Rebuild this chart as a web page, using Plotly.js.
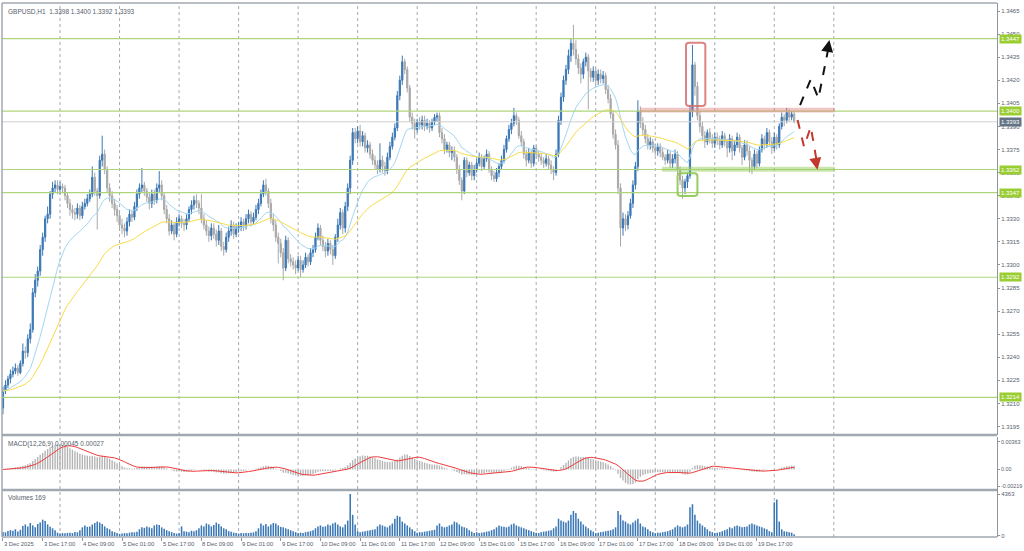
<!DOCTYPE html>
<html><head><meta charset="utf-8">
<script src="https://cdn.plot.ly/plotly-3.0.1.min.js"></script>
<style>html,body{margin:0;padding:0;background:#fff;}#chart{width:1024px;height:551px;}</style>
</head><body><div id="chart"></div>
<script>
// ---- data (GBPUSD H1, bar 0 = 3 Dec 2025 01:00) ----
const openP = [
1.3207,1.3218,1.3222,1.3226,1.3229,1.3231,1.3233,1.3230,1.3236,1.3244,
1.3243,1.3252,1.3258,1.3282,1.3290,1.3296,1.3310,1.3318,1.3330,1.3333,
1.3346,1.3350,1.3352,1.3349,1.3351,1.3350,1.3345,1.3340,1.3336,1.3334,
1.3333,1.3337,1.3332,1.3338,1.3340,1.3343,1.3346,1.3357,1.3348,1.3345,
1.3368,1.3372,1.3362,1.3350,1.3345,1.3340,1.3336,1.3332,1.3326,1.3324,
1.3322,1.3328,1.3333,1.3331,1.3338,1.3346,1.3350,1.3352,1.3348,1.3344,
1.3340,1.3346,1.3342,1.3350,1.3352,1.3345,1.3336,1.3330,1.3322,1.3326,
1.3320,1.3328,1.3330,1.3327,1.3326,1.3330,1.3336,1.3339,1.3342,1.3340,
1.3337,1.3330,1.3326,1.3322,1.3319,1.3324,1.3320,1.3316,1.3322,1.3312,
1.3310,1.3318,1.3322,1.3326,1.3320,1.3324,1.3325,1.3328,1.3325,1.3330,
1.3333,1.3328,1.3331,1.3336,1.3340,1.3346,1.3352,1.3348,1.3340,1.3330,
1.3326,1.3318,1.3314,1.3308,1.3298,1.3316,1.3304,1.3302,1.3300,1.3298,
1.3303,1.3297,1.3300,1.3305,1.3302,1.3308,1.3310,1.3318,1.3324,1.3316,
1.3312,1.3309,1.3314,1.3310,1.3306,1.3318,1.3326,1.3334,1.3324,1.3338,
1.3350,1.3368,1.3386,1.3382,1.3387,1.3380,1.3384,1.3376,1.3378,1.3372,
1.3368,1.3365,1.3362,1.3368,1.3364,1.3361,1.3370,1.3377,1.3383,1.3389,
1.3410,1.3420,1.3432,1.3427,1.3415,1.3396,1.3392,1.3388,1.3393,1.3391,
1.3394,1.3390,1.3392,1.3389,1.3393,1.3396,1.3397,1.3386,1.3382,1.3375,
1.3378,1.3373,1.3374,1.3370,1.3362,1.3355,1.3348,1.3368,1.3360,1.3365,
1.3358,1.3362,1.3366,1.3370,1.3364,1.3369,1.3372,1.3362,1.3358,1.3356,
1.3360,1.3364,1.3368,1.3375,1.3382,1.3388,1.3392,1.3397,1.3394,1.3384,
1.3380,1.3372,1.3368,1.3373,1.3366,1.3376,1.3372,1.3370,1.3368,1.3366,
1.3369,1.3365,1.3362,1.3360,1.3372,1.3394,1.3409,1.3420,1.3427,1.3436,
1.3444,1.3440,1.3434,1.3428,1.3424,1.3432,1.3435,1.3426,1.3422,1.3426,
1.3420,1.3424,1.3421,1.3423,1.3414,1.3408,1.3398,1.3385,1.3378,1.3350,
1.3324,1.3330,1.3326,1.3332,1.3340,1.3352,1.3364,1.3400,1.3392,1.3388,
1.3382,1.3378,1.3380,1.3376,1.3374,1.3377,1.3373,1.3370,1.3368,1.3372,
1.3366,1.3369,1.3372,1.3362,1.3355,1.3350,1.3354,1.3358,1.3400,1.3430,
1.3416,1.3397,1.3390,1.3384,1.3380,1.3386,1.3382,1.3379,1.3383,1.3381,
1.3378,1.3384,1.3380,1.3376,1.3382,1.3374,1.3378,1.3383,1.3376,1.3370,
1.3378,1.3374,1.3368,1.3364,1.3372,1.3366,1.3375,1.3382,1.3378,1.3386,
1.3380,1.3376,1.3383,1.3378,1.3390,1.3396,1.3394,1.3399,1.3396,1.3398];
const highP = [
1.3221,1.3225,1.3228,1.3232,1.3234,1.3236,1.3235,1.3238,1.3249,1.3247,
1.3255,1.3262,1.3285,1.3294,1.3299,1.3313,1.3321,1.3332,1.3338,1.3348,
1.3354,1.3355,1.3355,1.3354,1.3353,1.3352,1.3347,1.3343,1.3339,1.3337,
1.3340,1.3339,1.3341,1.3343,1.3346,1.3349,1.3364,1.3360,1.3350,1.3371,
1.3384,1.3375,1.3364,1.3353,1.3348,1.3343,1.3339,1.3335,1.3330,1.3327,
1.3331,1.3336,1.3335,1.3341,1.3349,1.3353,1.3363,1.3354,1.3350,1.3347,
1.3349,1.3349,1.3353,1.3361,1.3355,1.3347,1.3339,1.3333,1.3329,1.3328,
1.3331,1.3333,1.3332,1.3330,1.3333,1.3338,1.3342,1.3345,1.3346,1.3342,
1.3346,1.3333,1.3329,1.3325,1.3327,1.3327,1.3323,1.3326,1.3324,1.3315,
1.3321,1.3325,1.3329,1.3328,1.3327,1.3328,1.3331,1.3330,1.3333,1.3336,
1.3335,1.3334,1.3339,1.3343,1.3349,1.3355,1.3356,1.3350,1.3343,1.3333,
1.3329,1.3321,1.3317,1.3311,1.3319,1.3318,1.3307,1.3305,1.3303,1.3306,
1.3306,1.3303,1.3308,1.3307,1.3311,1.3313,1.3321,1.3327,1.3326,1.3319,
1.3315,1.3317,1.3316,1.3313,1.3320,1.3330,1.3337,1.3336,1.3341,1.3353,
1.3371,1.3389,1.3389,1.3390,1.3391,1.3387,1.3386,1.3381,1.3380,1.3375,
1.3371,1.3368,1.3379,1.3371,1.3367,1.3373,1.3380,1.3386,1.3392,1.3413,
1.3423,1.3436,1.3434,1.3429,1.3417,1.3399,1.3395,1.3395,1.3396,1.3397,
1.3397,1.3395,1.3394,1.3395,1.3398,1.3399,1.3399,1.3389,1.3385,1.3380,
1.3380,1.3377,1.3377,1.3372,1.3365,1.3357,1.3370,1.3370,1.3367,1.3367,
1.3365,1.3369,1.3373,1.3372,1.3371,1.3375,1.3374,1.3364,1.3361,1.3363,
1.3366,1.3371,1.3378,1.3384,1.3391,1.3395,1.3402,1.3399,1.3396,1.3387,
1.3382,1.3375,1.3376,1.3375,1.3378,1.3378,1.3374,1.3373,1.3370,1.3372,
1.3371,1.3368,1.3364,1.3375,1.3397,1.3412,1.3423,1.3430,1.3440,1.3447,
1.3456,1.3446,1.3437,1.3431,1.3434,1.3438,1.3437,1.3428,1.3429,1.3428,
1.3427,1.3427,1.3426,1.3425,1.3417,1.3411,1.3400,1.3388,1.3381,1.3353,
1.3334,1.3333,1.3335,1.3343,1.3355,1.3367,1.3407,1.3403,1.3396,1.3391,
1.3385,1.3383,1.3382,1.3379,1.3379,1.3379,1.3376,1.3372,1.3375,1.3374,
1.3372,1.3375,1.3374,1.3364,1.3358,1.3356,1.3360,1.3404,1.3443,1.3432,
1.3419,1.3400,1.3393,1.3387,1.3388,1.3389,1.3385,1.3386,1.3386,1.3384,
1.3387,1.3386,1.3382,1.3385,1.3384,1.3381,1.3386,1.3385,1.3378,1.3381,
1.3381,1.3377,1.3370,1.3375,1.3374,1.3377,1.3385,1.3384,1.3389,1.3388,
1.3383,1.3386,1.3385,1.3392,1.3399,1.3398,1.3402,1.3401,1.3400,1.3400];
const lowP = [
1.3203,1.3216,1.3220,1.3223,1.3227,1.3229,1.3228,1.3229,1.3234,1.3239,
1.3240,1.3249,1.3256,1.3279,1.3286,1.3293,1.3306,1.3315,1.3327,1.3330,
1.3343,1.3347,1.3346,1.3346,1.3347,1.3342,1.3337,1.3332,1.3330,1.3329,
1.3330,1.3329,1.3330,1.3336,1.3338,1.3341,1.3344,1.3345,1.3323,1.3343,
1.3364,1.3359,1.3347,1.3341,1.3337,1.3332,1.3328,1.3322,1.3320,1.3318,
1.3319,1.3325,1.3328,1.3329,1.3335,1.3343,1.3347,1.3345,1.3341,1.3336,
1.3337,1.3339,1.3340,1.3347,1.3342,1.3333,1.3327,1.3319,1.3320,1.3316,
1.3318,1.3325,1.3324,1.3322,1.3323,1.3328,1.3333,1.3336,1.3337,1.3333,
1.3327,1.3323,1.3319,1.3315,1.3316,1.3317,1.3312,1.3313,1.3309,1.3306,
1.3308,1.3315,1.3319,1.3317,1.3318,1.3321,1.3322,1.3322,1.3323,1.3327,
1.3325,1.3326,1.3329,1.3333,1.3338,1.3344,1.3345,1.3337,1.3327,1.3322,
1.3315,1.3301,1.3305,1.3290,1.3296,1.3301,1.3299,1.3297,1.3294,1.3296,
1.3292,1.3295,1.3298,1.3299,1.3300,1.3305,1.3308,1.3316,1.3313,1.3309,
1.3305,1.3306,1.3307,1.3300,1.3304,1.3315,1.3323,1.3320,1.3321,1.3335,
1.3346,1.3365,1.3379,1.3379,1.3377,1.3377,1.3373,1.3373,1.3369,1.3365,
1.3362,1.3359,1.3360,1.3360,1.3358,1.3359,1.3368,1.3375,1.3381,1.3387,
1.3407,1.3417,1.3424,1.3412,1.3393,1.3388,1.3382,1.3386,1.3388,1.3388,
1.3387,1.3388,1.3386,1.3387,1.3391,1.3393,1.3383,1.3379,1.3372,1.3373,
1.3370,1.3368,1.3367,1.3359,1.3352,1.3342,1.3346,1.3357,1.3358,1.3355,
1.3355,1.3360,1.3364,1.3361,1.3362,1.3367,1.3360,1.3355,1.3354,1.3354,
1.3357,1.3362,1.3366,1.3373,1.3380,1.3385,1.3390,1.3391,1.3382,1.3377,
1.3369,1.3364,1.3366,1.3363,1.3364,1.3369,1.3367,1.3365,1.3363,1.3364,
1.3362,1.3359,1.3355,1.3358,1.3370,1.3391,1.3406,1.3417,1.3424,1.3432,
1.3436,1.3430,1.3424,1.3418,1.3421,1.3429,1.3401,1.3419,1.3419,1.3417,
1.3417,1.3418,1.3418,1.3411,1.3405,1.3395,1.3382,1.3375,1.3346,1.3312,
1.3319,1.3322,1.3323,1.3330,1.3337,1.3349,1.3361,1.3389,1.3384,1.3379,
1.3375,1.3375,1.3373,1.3371,1.3371,1.3370,1.3368,1.3365,1.3366,1.3363,
1.3363,1.3366,1.3359,1.3352,1.3343,1.3346,1.3350,1.3356,1.3396,1.3410,
1.3394,1.3386,1.3381,1.3376,1.3378,1.3379,1.3376,1.3376,1.3378,1.3375,
1.3376,1.3377,1.3370,1.3373,1.3368,1.3371,1.3376,1.3373,1.3365,1.3368,
1.3371,1.3360,1.3359,1.3362,1.3363,1.3364,1.3373,1.3375,1.3376,1.3377,
1.3372,1.3374,1.3375,1.3376,1.3388,1.3390,1.3392,1.3393,1.3394,1.3392];
const closeP = [
1.3218,1.3222,1.3226,1.3229,1.3231,1.3233,1.3230,1.3236,1.3244,1.3243,
1.3252,1.3258,1.3282,1.3290,1.3296,1.3310,1.3318,1.3330,1.3333,1.3346,
1.3350,1.3352,1.3349,1.3351,1.3350,1.3345,1.3340,1.3336,1.3334,1.3333,
1.3337,1.3332,1.3338,1.3340,1.3343,1.3346,1.3357,1.3348,1.3345,1.3368,
1.3372,1.3362,1.3350,1.3345,1.3340,1.3336,1.3332,1.3326,1.3324,1.3322,
1.3328,1.3333,1.3331,1.3338,1.3346,1.3350,1.3352,1.3348,1.3344,1.3340,
1.3346,1.3342,1.3350,1.3352,1.3345,1.3336,1.3330,1.3322,1.3326,1.3320,
1.3328,1.3330,1.3327,1.3326,1.3330,1.3336,1.3339,1.3342,1.3340,1.3337,
1.3330,1.3326,1.3322,1.3319,1.3324,1.3320,1.3316,1.3322,1.3312,1.3310,
1.3318,1.3322,1.3326,1.3320,1.3324,1.3325,1.3328,1.3325,1.3330,1.3333,
1.3328,1.3331,1.3336,1.3340,1.3346,1.3352,1.3348,1.3340,1.3330,1.3326,
1.3318,1.3314,1.3308,1.3298,1.3316,1.3304,1.3302,1.3300,1.3298,1.3303,
1.3297,1.3300,1.3305,1.3302,1.3308,1.3310,1.3318,1.3324,1.3316,1.3312,
1.3309,1.3314,1.3310,1.3306,1.3318,1.3326,1.3334,1.3324,1.3338,1.3350,
1.3368,1.3386,1.3382,1.3387,1.3380,1.3384,1.3376,1.3378,1.3372,1.3368,
1.3365,1.3362,1.3368,1.3364,1.3361,1.3370,1.3377,1.3383,1.3389,1.3410,
1.3420,1.3432,1.3427,1.3415,1.3396,1.3392,1.3388,1.3393,1.3391,1.3394,
1.3390,1.3392,1.3389,1.3393,1.3396,1.3397,1.3386,1.3382,1.3375,1.3378,
1.3373,1.3374,1.3370,1.3362,1.3355,1.3348,1.3368,1.3360,1.3365,1.3358,
1.3362,1.3366,1.3370,1.3364,1.3369,1.3372,1.3362,1.3358,1.3356,1.3360,
1.3364,1.3368,1.3375,1.3382,1.3388,1.3392,1.3397,1.3394,1.3384,1.3380,
1.3372,1.3368,1.3373,1.3366,1.3376,1.3372,1.3370,1.3368,1.3366,1.3369,
1.3365,1.3362,1.3360,1.3372,1.3394,1.3409,1.3420,1.3427,1.3436,1.3444,
1.3440,1.3434,1.3428,1.3424,1.3432,1.3435,1.3426,1.3422,1.3426,1.3420,
1.3424,1.3421,1.3423,1.3414,1.3408,1.3398,1.3385,1.3378,1.3350,1.3324,
1.3330,1.3326,1.3332,1.3340,1.3352,1.3364,1.3400,1.3392,1.3388,1.3382,
1.3378,1.3380,1.3376,1.3374,1.3377,1.3373,1.3370,1.3368,1.3372,1.3366,
1.3369,1.3372,1.3362,1.3355,1.3350,1.3354,1.3358,1.3400,1.3430,1.3416,
1.3397,1.3390,1.3384,1.3380,1.3386,1.3382,1.3379,1.3383,1.3381,1.3378,
1.3384,1.3380,1.3376,1.3382,1.3374,1.3378,1.3383,1.3376,1.3370,1.3378,
1.3374,1.3368,1.3364,1.3372,1.3366,1.3375,1.3382,1.3378,1.3386,1.3380,
1.3376,1.3383,1.3378,1.3390,1.3396,1.3394,1.3399,1.3396,1.3398,1.3393];
const volumes = [
420,380,520,610,540,700,480,650,1050,1200,980,1350,1100,900,1250,1400,1700,1550,1200,950,800,600,350,
250,300,280,320,350,300,420,380,600,900,1100,950,1000,1200,1350,1500,1400,1250,1000,800,700,500,400,300,
220,260,300,280,350,400,380,450,700,900,850,1000,900,800,1100,1200,1150,900,750,600,500,400,300,250,
300,1000,500,450,400,550,500,600,800,1100,1000,1300,1200,1000,1150,1400,1250,1000,800,700,500,450,350,300,
250,300,280,320,300,350,380,500,800,1300,1100,1250,1000,1200,1350,1300,1100,950,900,800,700,600,500,400,
300,350,320,400,450,500,600,800,1000,1100,950,1000,1200,1100,1300,1400,1200,1000,900,1200,1600,4363,2200,1200,
500,400,450,500,550,600,650,700,1000,1200,1100,1000,900,1100,1300,1800,2100,2000,1500,1300,1100,900,700,500,
350,400,380,450,500,550,600,650,1100,1300,1000,900,950,1100,1200,1500,1400,1200,1000,900,800,600,450,300,
400,300,350,400,450,500,600,700,900,1100,1000,950,900,1000,1200,1300,1100,1000,900,800,700,600,500,400,
350,300,400,450,500,550,600,800,1000,1800,1600,1500,1400,1600,2200,2600,2400,1800,1500,1200,1000,800,600,450,
300,350,400,450,500,550,600,700,900,2600,2200,1600,1500,1300,1200,1400,1600,1800,1300,1000,900,700,500,400,
300,350,350,400,450,500,600,700,900,1100,1000,900,1000,1200,3000,3300,2200,1600,1300,1100,900,700,500,400,
300,350,400,500,600,700,900,800,1000,1100,1000,900,950,1000,1200,1300,1200,1100,1000,900,800,700,500,400,
3500,3800,1500,700,500,450,400,350,169];

const tickBars = [0,16,32,48,64,80,96,112,128,144,160,176,192,208,224,240,256,272,288,304];
const tickLabels = ["3 Dec 2025","3 Dec 17:00","4 Dec 09:00","5 Dec 01:00","5 Dec 17:00","8 Dec 09:00",
  "9 Dec 01:00","9 Dec 17:00","10 Dec 09:00","11 Dec 01:00","11 Dec 17:00","12 Dec 09:00",
  "15 Dec 01:00","15 Dec 17:00","16 Dec 09:00","17 Dec 01:00","17 Dec 17:00","18 Dec 09:00",
  "19 Dec 01:00","19 Dec 17:00"];
const daySeparators = [23,47,71,95,119,143,167,191,215,239,263,287,311,335];
const priceTicks = [1.3465,1.3450,1.3435,1.3420,1.3405,1.3390,1.3375,1.3360,1.3345,1.3330,1.3315,1.3300,
  1.3285,1.3270,1.3255,1.3240,1.3225,1.3210,1.3195];
const levels = [1.3447,1.3400,1.3362,1.3347,1.3292,1.3214];
const lastPrice = 1.3393;
const macdTicks = [0.00363,0,-0.00219];
const macdTickText = ["0.00363","0.00","-0.00219"];
const volTicks = [0,4363];

// ---- indicators computed from the closes ----
function ema(arr,n){const a=2/(n+1);const out=[];let e=arr[0];for(let i=0;i<arr.length;i++){e=i===0?arr[0]:a*arr[i]+(1-a)*e;out.push(e);}return out;}
function sma(arr,n){const out=[];for(let i=0;i<arr.length;i++){let s=0,c=0;for(let j=Math.max(0,i-n+1);j<=i;j++){s+=arr[j];c++;}out.push(s/c);}return out;}
const xi = closeP.map((_,i)=>i);
const maFast = ema(closeP,20);
const maSlow = ema(closeP,50);
const e12 = ema(closeP,12), e26 = ema(closeP,26);
const macd = e12.map((v,i)=>v-e26[i]);
const signal = sma(macd,9);

const BLUE='#3a77b5', GRAY='#a8a8a8', AX='#8d96a0', TXT='#56606b';
const traces = [
 {type:'candlestick',x:xi,open:openP,high:highP,low:lowP,close:closeP,xaxis:'x',yaxis:'y',
  increasing:{line:{color:BLUE,width:1},fillcolor:BLUE},decreasing:{line:{color:GRAY,width:1},fillcolor:GRAY},
  whiskerwidth:0,hoverinfo:'skip'},
 {type:'scatter',mode:'lines',x:xi,y:maFast,line:{color:'#a3d6f0',width:1},xaxis:'x',yaxis:'y',hoverinfo:'skip'},
 {type:'scatter',mode:'lines',x:xi,y:maSlow,line:{color:'#f8dc48',width:1},xaxis:'x',yaxis:'y',hoverinfo:'skip'},
 {type:'bar',x:xi,y:macd,marker:{color:'#b3b3b3',line:{width:0}},width:0.55,xaxis:'x',yaxis:'y2',hoverinfo:'skip'},
 {type:'scatter',mode:'lines',x:xi,y:signal,line:{color:'#ee3b3b',width:1},xaxis:'x',yaxis:'y2',hoverinfo:'skip'},
 {type:'bar',x:xi,y:volumes,marker:{color:BLUE,line:{width:0}},width:0.62,xaxis:'x',yaxis:'y3',hoverinfo:'skip'}
];

const shapes = [];
daySeparators.forEach(s=>shapes.push({type:'line',xref:'x',yref:'paper',x0:s,x1:s,y0:0,y1:1,layer:'below',line:{color:'#a3abb4',width:1,dash:'dot'}}));
levels.forEach(v=>shapes.push({type:'line',xref:'paper',x0:0,x1:1,yref:'y',y0:v,y1:v,line:{color:'#aed57a',width:1.2}}));
shapes.push({type:'line',xref:'paper',x0:0,x1:1,yref:'y',y0:lastPrice,y1:lastPrice,line:{color:'#cfcfcf',width:1}});
// zones
shapes.push({type:'rect',xref:'x',yref:'y',x0:256.9,x1:335.5,y0:1.33990,y1:1.34022,fillcolor:'rgba(226,128,128,0.45)',line:{width:0}});
shapes.push({type:'rect',xref:'x',yref:'y',x0:265.7,x1:335.5,y0:1.33606,y1:1.33638,fillcolor:'rgba(150,205,95,0.5)',line:{width:0}});
function rbox(x0,x1,y0,y1,rx,ry){return `M${x0+rx},${y1} L${x1-rx},${y1} Q${x1},${y1} ${x1},${y1-ry} L${x1},${y0+ry} Q${x1},${y0} ${x1-rx},${y0} L${x0+rx},${y0} Q${x0},${y0} ${x0},${y0+ry} L${x0},${y1-ry} Q${x0},${y1} ${x0+rx},${y1} Z`;}
shapes.push({type:'path',xref:'x',yref:'y',path:rbox(275.4,283.2,1.34033,1.34444,1.3,0.00018),line:{color:'rgba(214,110,110,0.85)',width:2}});
shapes.push({type:'path',xref:'x',yref:'y',path:rbox(272.0,280.0,1.33448,1.33595,1.3,0.00018),line:{color:'rgba(140,200,80,0.9)',width:2}});
// scenario arrows
shapes.push({type:'path',xref:'x',yref:'y',path:'M321.4,1.34039 L325.7,1.34206 L328.8,1.34083 L332.9,1.34415',line:{color:'#111',width:2,dash:'dash'}});
shapes.push({type:'path',xref:'x',yref:'y',path:'M320.4,1.33942 L323.0,1.33768 L325.7,1.33898 L328.2,1.33665',line:{color:'#c0392b',width:2,dash:'dash'}});
// panel borders
[0.191,0.088].forEach(p=>shapes.push({type:'line',xref:'paper',yref:'paper',x0:0,x1:1,y0:p,y1:p,line:{color:'#a0a8b1',width:2.5}}));
shapes.push({type:'line',xref:'paper',yref:'paper',x0:0,x1:1,y0:0,y1:0,line:{color:'#a0a8b1',width:1.5}});
shapes.push({type:'line',xref:'paper',yref:'paper',x0:0,x1:0,y0:0,y1:1,line:{color:'#a0a8b1',width:1.5}});
shapes.push({type:'line',xref:'paper',yref:'paper',x0:0,x1:1,y0:1,y1:1,line:{color:'#a0a8b1',width:1.5}});

const annotations = [];
levels.forEach(v=>annotations.push({xref:'paper',x:1,xanchor:'left',xshift:2,yref:'y',y:v,yanchor:'middle',text:v.toFixed(4),showarrow:false,bgcolor:'#9acd32',font:{color:'#fff',size:6},borderpad:1}));
annotations.push({xref:'paper',x:1,xanchor:'left',xshift:2,yref:'y',y:lastPrice,yanchor:'middle',text:lastPrice.toFixed(4),showarrow:false,bgcolor:'#637384',font:{color:'#fff',size:6},borderpad:1});
annotations.push({xref:'x',yref:'y',x:333.2,y:1.34462,ax:-2,ay:11,text:'',showarrow:true,arrowhead:2,arrowsize:1.2,arrowwidth:2,arrowcolor:'#111',standoff:0});
annotations.push({xref:'x',yref:'y',x:328.4,y:1.33618,ax:-2,ay:-11,text:'',showarrow:true,arrowhead:2,arrowsize:1.2,arrowwidth:2,arrowcolor:'#c0392b',standoff:0});
annotations.push({xref:'paper',yref:'paper',x:0,y:1,xanchor:'left',yanchor:'top',xshift:4,yshift:-3,text:'GBPUSD,H1  1.3398 1.3400 1.3392 1.3393',showarrow:false,font:{size:6.5,color:TXT}});
annotations.push({xref:'paper',yref:'paper',x:0,y:0.1873,xanchor:'left',yanchor:'top',xshift:4,yshift:-1,text:'MACD(12,26,9) 0.00045 0.00027',showarrow:false,font:{size:6.5,color:TXT}});
annotations.push({xref:'paper',yref:'paper',x:0,y:0.088,xanchor:'left',yanchor:'top',xshift:4,yshift:-2,text:'Volumes 169',showarrow:false,font:{size:6.5,color:TXT}});
// time labels, left-aligned at their tick (MetaTrader style)
tickBars.forEach((b,i)=>annotations.push({xref:'x',yref:'paper',x:b,y:0,xanchor:'left',yanchor:'top',xshift:-1,yshift:-2,text:tickLabels[i],showarrow:false,font:{size:5.8,color:TXT}}));

const yBase = {side:'right',anchor:'x',showgrid:false,zeroline:false,showline:true,linecolor:AX,linewidth:1,ticks:'outside',ticklen:2,tickcolor:AX,tickfont:{size:6,color:TXT},fixedrange:true};
const layout = {
 width:1024,height:551,margin:{l:2,r:27,t:3,b:14},paper_bgcolor:'#fff',plot_bgcolor:'#fff',showlegend:false,
 font:{family:'Liberation Sans, Arial, sans-serif',size:6.5,color:TXT},
 bargap:0.4,boxgap:0.3,
 xaxis:{range:[-0.4,400.8],anchor:'y3',tickmode:'array',tickvals:tickBars,ticks:'outside',ticklen:3,tickcolor:AX,showticklabels:false,
   showgrid:false,zeroline:false,showline:false,rangeslider:{visible:false},fixedrange:true},
 yaxis:Object.assign({},yBase,{domain:[0.191,1],range:[1.31895,1.34702],tickmode:'array',tickvals:priceTicks,ticktext:priceTicks.map(v=>v.toFixed(4))}),
 yaxis2:Object.assign({},yBase,{domain:[0.088,0.1873],range:[-0.0027,0.00427],tickmode:'array',tickvals:macdTicks,ticktext:macdTickText,tickfont:{size:5.4,color:TXT}}),
 yaxis3:Object.assign({},yBase,{domain:[0,0.088],range:[-104,4779],tickmode:'array',tickvals:volTicks,ticktext:volTicks.map(String)}),
 shapes:shapes,annotations:annotations
};
Plotly.newPlot('chart',traces,layout,{staticPlot:true,displayModeBar:false});
</script></body></html>
